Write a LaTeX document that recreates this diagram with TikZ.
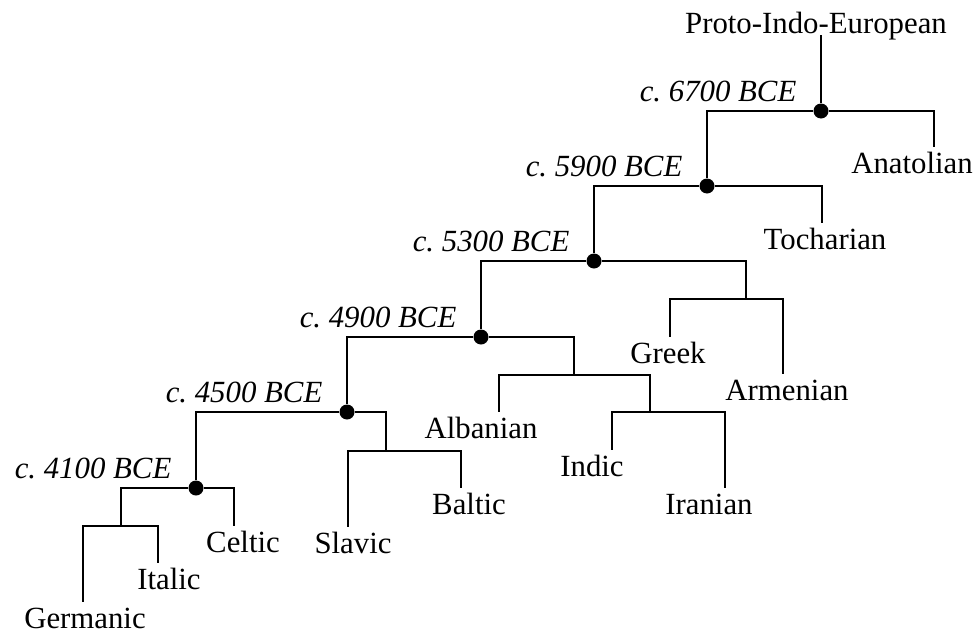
\documentclass[tikz,border=0pt]{standalone}
\usepackage{fontspec}
\setmainfont{Liberation Serif}
\usetikzlibrary{positioning}
\newcommand{\treesize}{\fontsize{15.4pt}{18pt}\selectfont}
\tikzset{
    junction/.style = {circle, fill=black, inner sep=0pt, minimum size=7.5pt},
    leaf/.style = {anchor=north, inner sep=2.2pt, text height=10.8pt,
                   text depth=3pt, font=\treesize},
    date/.style = {inner sep=0pt, text depth=0pt, font=\treesize\itshape},
    branch/.style = {line width=0.6pt},
}
\begin{document}
\begin{tikzpicture}[x=0.5pt, y=-0.5pt]
        \useasboundingbox (0,0) rectangle (976,632);
        % root
        \node[font=\treesize, anchor=base] (pie) at (816,33) {Proto-Indo-European};
        % splits with dates
        \node[junction] (d6700) at (821,111) {};
        \node[junction] (d5900) at (707,186) {};
        \node[junction] (d5300) at (594,261) {};
        \node[junction] (d4900) at (481,337) {};
        \node[junction] (d4500) at (347,412) {};
        \node[junction] (d4100) at (196,488) {};
        \node[date, above left=1.8pt and 9.35pt of d6700] {c.\ 6700 BCE};
        \node[date, above left=1.8pt and 9.35pt of d5900] {c.\ 5900 BCE};
        \node[date, above left=1.8pt and 9.35pt of d5300] {c.\ 5300 BCE};
        \node[date, above left=1.8pt and 9.35pt of d4900] {c.\ 4900 BCE};
        \node[date, above left=1.8pt and 9.35pt of d4500] {c.\ 4500 BCE};
        \node[date, above left=1.8pt and 9.35pt of d4100] {c.\ 4100 BCE};
        % undated splits
        \coordinate (grarm) at (746,299);
        \coordinate (albii) at (574,375);
        \coordinate (indir) at (650,412);
        \coordinate (balsla) at (386,451);
        \coordinate (gerita) at (121,526);
        % branches
        \node[leaf] (anatolian) at (912,147) {Anatolian};
        \node[leaf] (tocharian) at (825,223) {Tocharian};
        \node[leaf] (greek) at (668,337) {Greek};
        \node[leaf] (armenian) at (787,374) {Armenian};
        \node[leaf] (albanian) at (481,412) {Albanian};
        \node[leaf] (indic) at (592,450) {Indic};
        \node[leaf] (iranian) at (709,488) {Iranian};
        \node[leaf] (baltic) at (469,488) {Baltic};
        \node[leaf] (slavic) at (353,527) {Slavic};
        \node[leaf] (celtic) at (243,526) {Celtic};
        \node[leaf] (italic) at (169,563) {Italic};
        \node[leaf] (germanic) at (85,602) {Germanic};
        % tree lines
        \draw[branch] (pie.base -| d6700) ++(0,2) -- (d6700);
        \draw[branch] (d6700) -| (d5900);
        \draw[branch] (d6700) -| ([xshift=11pt]anatolian.north);
        \draw[branch] (d5900) -| (d5300);
        \draw[branch] (d5900) -| ([xshift=-1.5pt]tocharian.north);
        \draw[branch] (d5300) -| (d4900);
        \draw[branch] (d5300) -| (grarm);
        \draw[branch] (grarm) -| ([xshift=1pt]greek.north);
        \draw[branch] (grarm) -| ([xshift=-2pt]armenian.north);
        \draw[branch] (d4900) -| (d4500);
        \draw[branch] (d4900) -| (albii);
        \draw[branch] (albii) -| ([xshift=9pt]albanian.north);
        \draw[branch] (albii) -| (indir);
        \draw[branch] (indir) -| ([xshift=10pt]indic.north);
        \draw[branch] (indir) -| ([xshift=8pt]iranian.north);
        \draw[branch] (d4500) -| (d4100);
        \draw[branch] (d4500) -| (balsla);
        \draw[branch] (balsla) -| ([xshift=-2.5pt]slavic.north);
        \draw[branch] (balsla) -| ([xshift=-4pt]baltic.north);
        \draw[branch] (d4100) -| (gerita);
        \draw[branch] (d4100) -| ([xshift=-4.5pt]celtic.north);
        \draw[branch] (gerita) -| ([xshift=-1pt]germanic.north);
        \draw[branch] (gerita) -| ([xshift=-5.5pt]italic.north);
\end{tikzpicture}
\end{document}
